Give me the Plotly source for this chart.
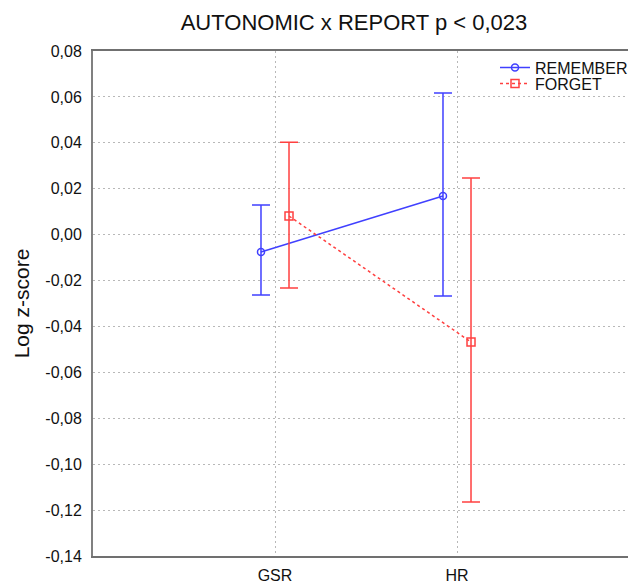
import plotly.graph_objects as go

categories = ["GSR", "HR"]
remember_mean = [-0.0076, 0.0168]
remember_upper = [0.0129, 0.0617]
remember_lower = [-0.0263, -0.0267]
forget_mean = [0.0081, -0.0468]
forget_upper = [0.0403, 0.0247]
forget_lower = [-0.0233, -0.1165]
y_tick_values = [0.08, 0.06, 0.04, 0.02, 0.0, -0.02, -0.04, -0.06, -0.08, -0.10, -0.12, -0.14]
y_tick_labels = ["0,08", "0,06", "0,04", "0,02", "0,00", "-0,02", "-0,04", "-0,06", "-0,08", "-0,10", "-0,12", "-0,14"]

BLUE = "rgb(64,64,255)"
RED = "rgb(255,64,64)"
dodge = 0.077
cat_pos = [i + 1 for i in range(len(categories))]

# page has an 8px default body margin: figure is sized/placed to compensate
W, H = 628, 576
ML, MT, MB = 85, 43, 28
PW, PH = W - ML, H - MT - MB

def err(mean, up, lo):
    return dict(type="data", symmetric=False,
                array=[u - m for u, m in zip(up, mean)],
                arrayminus=[m - l for m, l in zip(mean, lo)])

fig = go.Figure()
fig.add_trace(go.Scatter(
    x=[p - dodge for p in cat_pos], y=remember_mean, name="REMEMBER",
    mode="lines+markers", legend="legend",
    line=dict(color=BLUE, width=1.5),
    marker=dict(symbol="circle-open", size=7, color=BLUE, line=dict(width=1.5)),
    error_y=dict(**err(remember_mean, remember_upper, remember_lower), color=BLUE, thickness=1.5, width=9),
))
fig.add_trace(go.Scatter(
    x=[p + dodge for p in cat_pos], y=forget_mean, name="FORGET",
    mode="lines+markers", legend="legend2",
    line=dict(color=RED, width=1.5, dash="3px,3px"),
    marker=dict(symbol="square-open", size=8, color=RED, line=dict(width=1.5)),
    error_y=dict(**err(forget_mean, forget_upper, forget_lower), color=RED, thickness=1.5, width=9),
))

leg_common = dict(xanchor="left", yanchor="top", bgcolor="rgba(255,255,255,0)",
                  font=dict(size=16, color="#111"), itemwidth=30)
lx = (535 - 40 - 8 - ML) / PW
fig.update_layout(
    width=W, height=H,
    margin=dict(l=ML, r=0, t=MT, b=MB),
    paper_bgcolor="white", plot_bgcolor="white",
    font=dict(family="Arial, Liberation Sans, sans-serif", color="#111"),
    title=dict(text="AUTONOMIC x REPORT p < 0,023", x=(354 - 8) / W, xanchor="center",
               y=1 - (22 - 8) / H, yanchor="middle", font=dict(size=22, color="#111")),
    showlegend=True,
    legend=dict(x=lx, y=1 + (51 - (66.5 - 16)) / PH, **leg_common),
    legend2=dict(x=lx, y=1 + (51 - (82.5 - 16)) / PH, **leg_common),
)
fig.update_xaxes(
    range=[0, 3 * PW / 546], tickvals=cat_pos, ticktext=categories,
    showgrid=True, gridcolor="#b8b8b8", griddash="2px,3px", gridwidth=1,
    showline=True, linecolor="#707070", linewidth=2, mirror=True,
    ticks="outside", ticklen=4, tickcolor="rgba(0,0,0,0)",
    tickfont=dict(size=16, color="#111"), zeroline=False,
)
fig.update_yaxes(
    range=[-0.14, 0.08], tickvals=y_tick_values, ticktext=y_tick_labels,
    showgrid=True, gridcolor="#b8b8b8", griddash="2px,3px", gridwidth=1,
    showline=True, linecolor="#808080", linewidth=2,
    ticks="outside", ticklen=6, tickcolor="rgba(0,0,0,0)",
    tickfont=dict(size=16, color="#111"), zeroline=False,
    title=dict(text="Log z-score", font=dict(size=21, color="#111"), standoff=10),
)

fig.write_html("out.html")
